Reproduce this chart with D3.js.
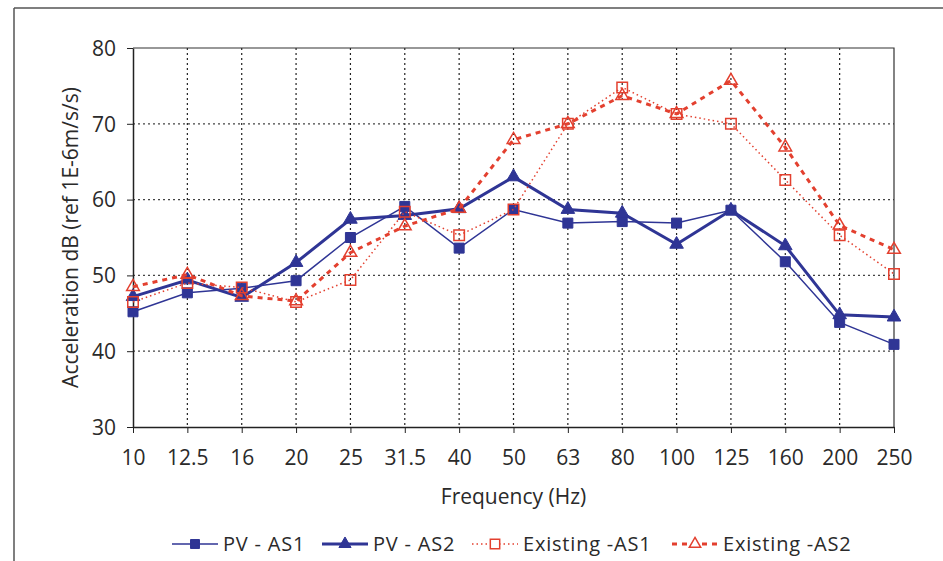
<!DOCTYPE html>
<html>
<head>
<meta charset="utf-8">
<script src="https://cdn.jsdelivr.net/npm/d3@7"></script>
<style>
    body { margin: 0; background: #fff; }
    text { font-family: "Open Sans", sans-serif; fill: #2a2a2a; }
</style>
</head>
<body>
<div id="chart"></div>
<script>
// frequency bands (Hz)
const frequencies = ["10", "12.5", "16", "20", "25", "31.5", "40", "50", "63", "80", "100", "125", "160", "200", "250"];

// acceleration levels, dB
const pvAS1 = [45.2, 47.7, 48.3, 49.3, 55.0, 59.1, 53.6, 58.7, 56.9, 57.1, 56.9, 58.6, 51.8, 43.8, 40.9];
const pvAS2 = [47.2, 49.4, 47.1, 51.7, 57.4, 57.9, 58.8, 63.0, 58.7, 58.2, 54.1, 58.6, 53.9, 44.8, 44.5];
const existingAS1 = [46.5, 49.0, 48.4, 46.5, 49.4, 58.4, 55.3, 58.7, 70.0, 74.8, 71.3, 70.0, 62.6, 55.3, 50.2];
const existingAS2 = [48.5, 50.1, 47.3, 46.6, 53.0, 56.5, 58.8, 67.9, 70.0, 73.7, 71.3, 75.7, 66.9, 56.6, 53.4];

const yTicks = [30, 40, 50, 60, 70, 80];

const seriesNames = ["PV - AS1", "PV - AS2", "Existing -AS1", "Existing -AS2"];

const blue = "#2f3595";
const red = "#e3402f";

const series = [
    { name: seriesNames[0], values: pvAS1, color: blue, width: 1.5, dash: null, symbol: d3.symbolSquare, size: 100, filled: true },
    { name: seriesNames[1], values: pvAS2, color: blue, width: 3, dash: null, symbol: d3.symbolTriangle, size: 80, filled: true },
    { name: seriesNames[2], values: existingAS1, color: red, width: 1.5, dash: "1.5,3", symbol: d3.symbolSquare, size: 110, filled: false },
    { name: seriesNames[3], values: existingAS2, color: red, width: 3, dash: "5,5", symbol: d3.symbolTriangle, size: 70, filled: false }
];

const width = 943, height = 561;
const margin = { top: 48, right: 49, bottom: 134, left: 133 };
const innerW = width - margin.left - margin.right;
const innerH = height - margin.top - margin.bottom;

const svg = d3.select("#chart").append("svg")
    .attr("width", width)
    .attr("height", height);

// outer frame (top and left edges only visible)
svg.append("line")
    .attr("x1", 14).attr("y1", 8).attr("x2", width).attr("y2", 8)
    .attr("stroke", "#555").attr("stroke-width", 1.5);
svg.append("line")
    .attr("x1", 14).attr("y1", 8).attr("x2", 14).attr("y2", height)
    .attr("stroke", "#555").attr("stroke-width", 1.5);

const chart = svg.append("g")
    .attr("transform", `translate(${margin.left},${margin.top})`);

const xScale = d3.scalePoint()
    .domain(frequencies)
    .range([0, innerW])
    .padding(0);

const yScale = d3.scaleLinear()
    .domain([30, 80])
    .range([innerH, 0]);

// dotted grid
chart.append("g")
    .selectAll("line")
    .data(frequencies.slice(1, -1))
    .join("line")
    .attr("x1", d => xScale(d)).attr("x2", d => xScale(d))
    .attr("y1", 0).attr("y2", innerH)
    .attr("stroke", "#222").attr("stroke-width", 1.2)
    .attr("stroke-dasharray", "2,3");

chart.append("g")
    .selectAll("line")
    .data(yTicks.slice(1, -1))
    .join("line")
    .attr("x1", 0).attr("x2", innerW)
    .attr("y1", d => yScale(d)).attr("y2", d => yScale(d))
    .attr("stroke", "#444").attr("stroke-width", 1.2)
    .attr("stroke-dasharray", "2,3");

// top and right border of plot area
chart.append("path")
    .attr("d", `M0,0H${innerW}V${innerH}`)
    .attr("fill", "none")
    .attr("stroke", "#333")
    .attr("stroke-width", 1.2);

// axes
const xAxis = d3.axisBottom(xScale).tickSizeInner(6).tickSizeOuter(0).tickPadding(17);
const yAxis = d3.axisLeft(yScale).tickValues(yTicks).tickSizeInner(6).tickSizeOuter(0).tickPadding(11);

const xAxisG = chart.append("g")
    .attr("transform", `translate(0,${innerH})`)
    .call(xAxis);
const yAxisG = chart.append("g").call(yAxis);

[xAxisG, yAxisG].forEach(g => {
    g.select(".domain").attr("stroke", "#222").attr("stroke-width", 1.5);
    g.selectAll(".tick line").attr("stroke", "#222").attr("stroke-width", 1);
    g.selectAll(".tick text")
        .style("font-family", "'Open Sans', sans-serif")
        .style("font-size", "21px")
        .attr("fill", "#2a2a2a");
});
yAxisG.selectAll(".tick text").attr("dy", "0.35em");

// axis titles
svg.append("text")
    .attr("x", margin.left + innerW / 2)
    .attr("y", 504)
    .attr("text-anchor", "middle")
    .style("font-size", "21px")
    .text("Frequency (Hz)");

svg.append("text")
    .attr("transform", `translate(78,${margin.top + innerH / 2}) rotate(-90)`)
    .attr("text-anchor", "middle")
    .style("font-size", "21px")
    .text("Acceleration dB (ref 1E-6m/s/s)");

// series lines and markers
const line = d3.line()
    .x((d, i) => xScale(frequencies[i]))
    .y(d => yScale(d));

series.forEach(s => {
    const g = chart.append("g");
    g.append("path")
        .datum(s.values)
        .attr("d", line)
        .attr("fill", "none")
        .attr("stroke", s.color)
        .attr("stroke-width", s.width)
        .attr("stroke-dasharray", s.dash);

    g.selectAll("path.marker")
        .data(s.values)
        .join("path")
        .attr("class", "marker")
        .attr("transform", (d, i) => `translate(${xScale(frequencies[i])},${yScale(d)})`)
        .attr("d", d3.symbol().type(s.symbol).size(s.size))
        .attr("fill", s.filled ? s.color : "none")
        .attr("stroke", s.color)
        .attr("stroke-width", s.filled ? 1 : 1.5);
});

// legend
const legendX = [172, 322, 472, 672];
const legend = svg.append("g").attr("transform", "translate(0,544)");

series.forEach((s, i) => {
    const item = legend.append("g").attr("transform", `translate(${legendX[i]},0)`);
    item.append("line")
        .attr("x1", 0).attr("x2", 46)
        .attr("stroke", s.color)
        .attr("stroke-width", s.width)
        .attr("stroke-dasharray", s.dash);
    item.append("path")
        .attr("transform", "translate(23,0)")
        .attr("d", d3.symbol().type(s.symbol).size(s.size * 0.8))
        .attr("fill", s.filled ? s.color : "#fff")
        .attr("stroke", s.color)
        .attr("stroke-width", s.filled ? 1 : 1.5);
    item.append("text")
        .attr("x", 51)
        .attr("dy", "0.35em")
        .style("font-size", "20px")
        .style("letter-spacing", "0.8px")
        .text(s.name);
});
</script>
</body>
</html>
